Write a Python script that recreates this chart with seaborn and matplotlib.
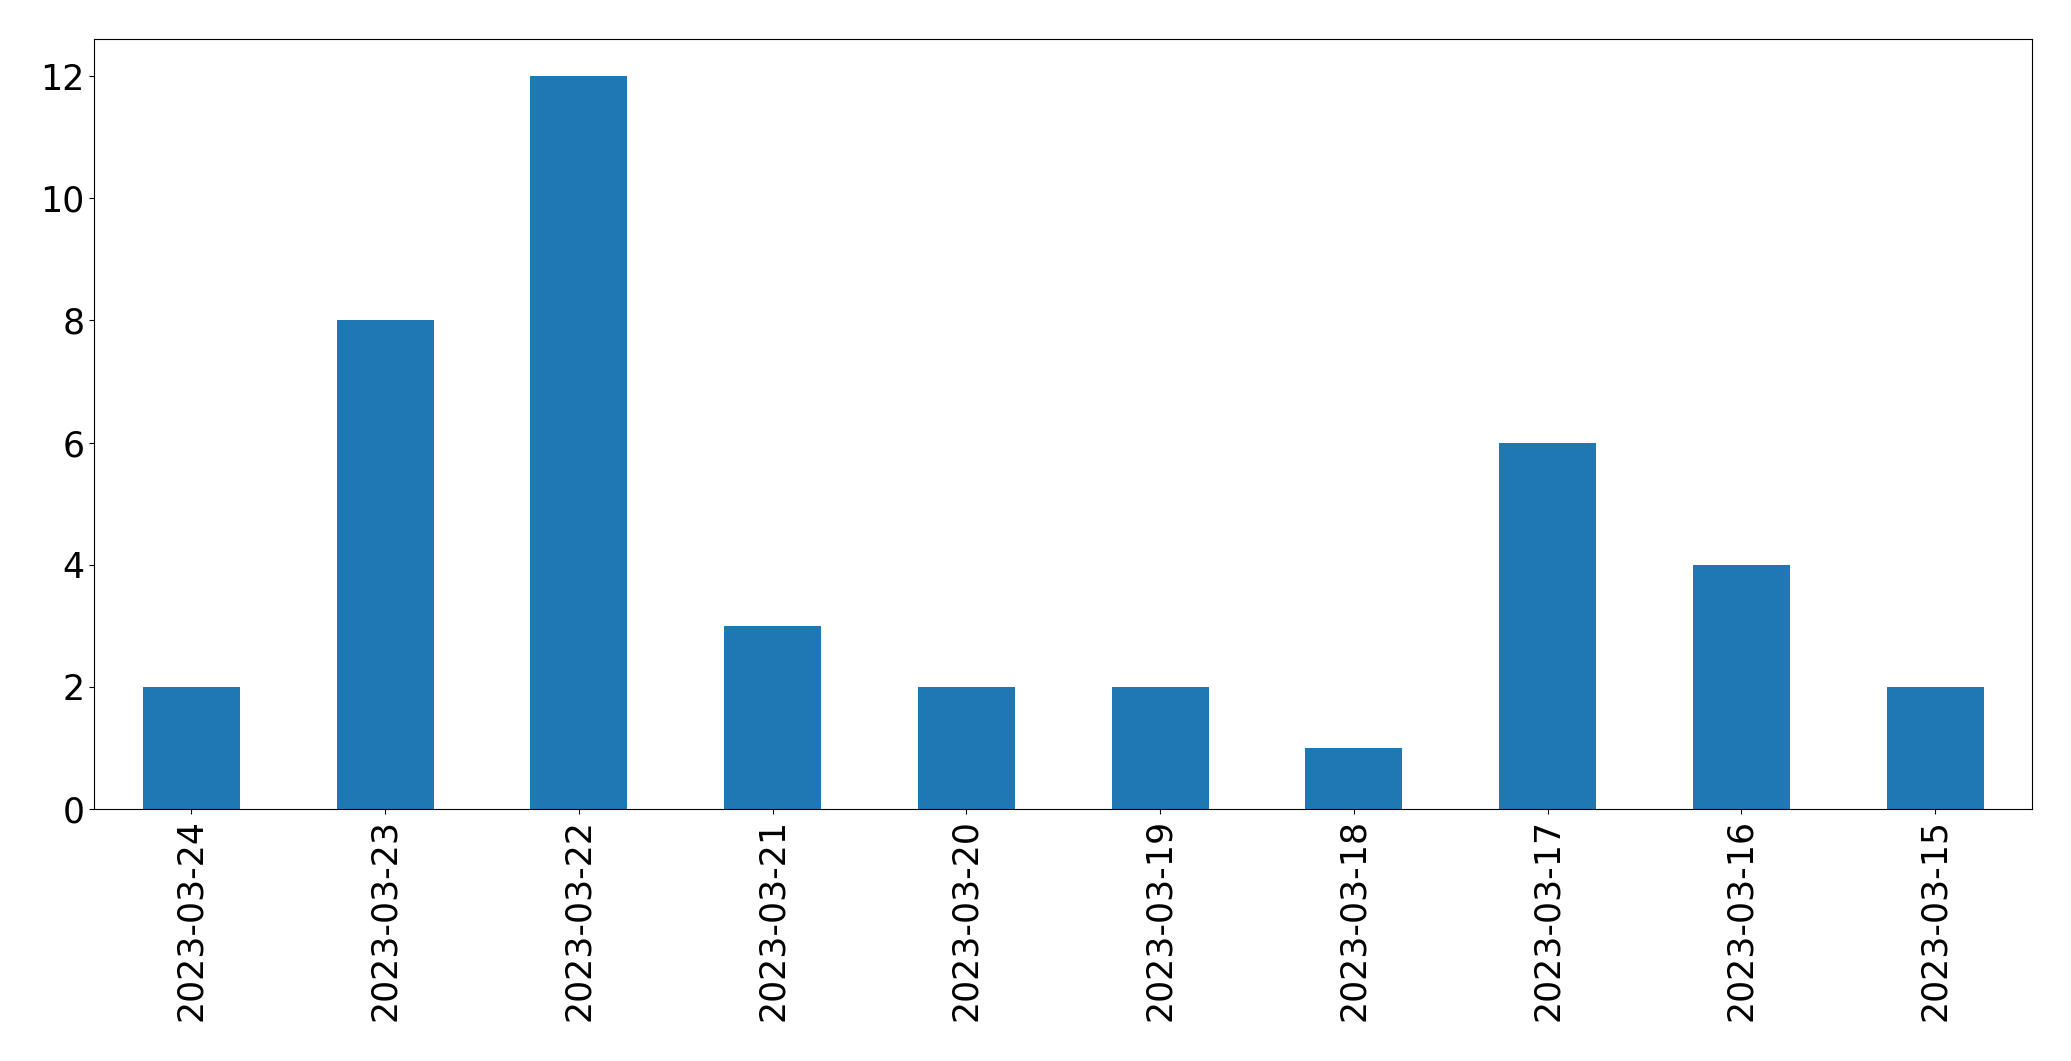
import matplotlib
matplotlib.use("Agg")
import matplotlib.pyplot as plt
import seaborn as sns
import pandas as pd

dates = ["2023-03-24", "2023-03-23", "2023-03-22", "2023-03-21", "2023-03-20",
         "2023-03-19", "2023-03-18", "2023-03-17", "2023-03-16", "2023-03-15"]
counts = [2, 8, 12, 3, 2, 2, 1, 6, 4, 2]

df = pd.DataFrame({"date": dates, "count": counts})

fig = plt.figure(figsize=(20.71, 10.61), dpi=100)
ax = fig.add_axes([0.0456, 0.2375, 0.9356, 0.7253])
sns.barplot(data=df, x="date", y="count", order=dates, color="#1f77b4",
            saturation=1, width=0.5, ax=ax)
ax.set_xlim(-0.5, len(dates) - 0.5)
ax.set_ylim(0, 12.6)
ax.set_yticks([0, 2, 4, 6, 8, 10, 12])
ax.set_xlabel("")
ax.set_ylabel("")
ax.tick_params(axis="both", labelsize=25)
ax.tick_params(axis="x", labelrotation=90)
for s in ax.spines.values():
    s.set_visible(True)
    s.set_color("black")
fig.savefig("out.png", dpi=100)
